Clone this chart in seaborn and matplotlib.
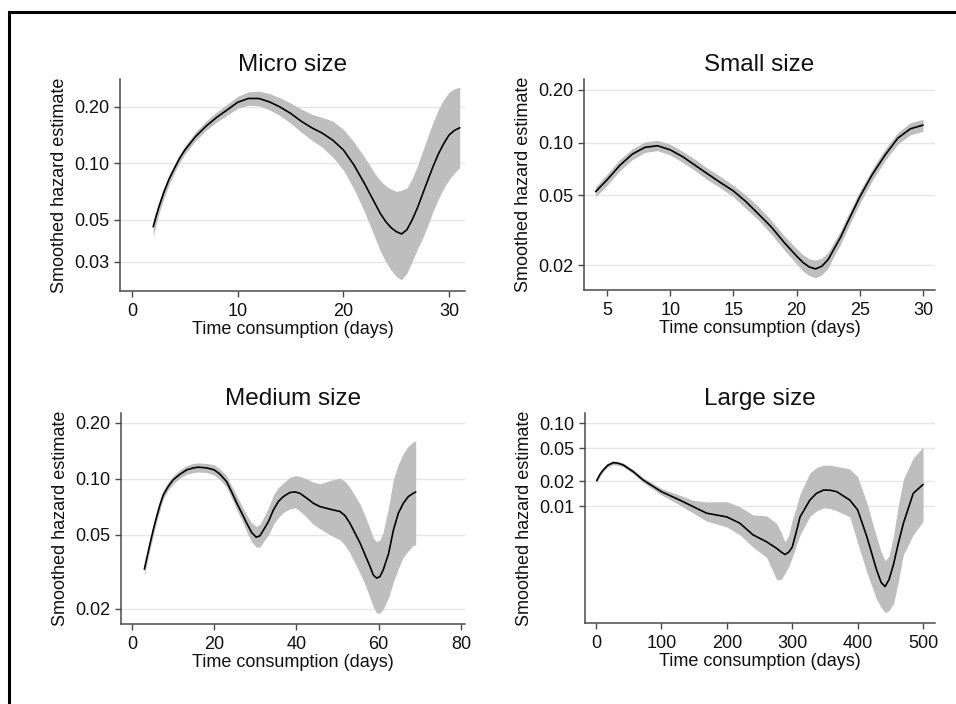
import matplotlib
matplotlib.use("Agg")
import matplotlib.pyplot as plt
from matplotlib.patches import Rectangle
from matplotlib.ticker import NullLocator
import seaborn as sns

# ---- data (days, hazard estimate, lower band, upper band) ----
micro_days = [2, 2.5, 3, 3.5, 4, 4.5, 5, 6, 7, 8, 9, 10, 11, 12, 13, 14, 15, 16, 17, 18,
              19, 20, 21, 22, 23, 23.5, 24, 24.5, 25, 25.5, 26, 26.5, 27, 27.5, 28, 28.5,
              29, 29.5, 30, 30.5, 31]
micro_est = [0.046, 0.0577, 0.070, 0.0824, 0.094, 0.1066, 0.118, 0.139, 0.158, 0.176,
             0.193, 0.212, 0.222, 0.222, 0.213, 0.200, 0.185, 0.168, 0.155, 0.145, 0.133,
             0.118, 0.098, 0.078, 0.061, 0.054, 0.049, 0.0455, 0.0433, 0.0421, 0.0443,
             0.050, 0.058, 0.069, 0.082, 0.097, 0.113, 0.128, 0.142, 0.150, 0.155]
micro_lo = [0.041, 0.053, 0.065, 0.077, 0.089, 0.101, 0.112, 0.132, 0.150, 0.166, 0.181,
            0.197, 0.204, 0.203, 0.193, 0.180, 0.164, 0.147, 0.133, 0.122, 0.108, 0.092,
            0.073, 0.055, 0.040, 0.034, 0.030, 0.027, 0.025, 0.024, 0.026, 0.030, 0.035,
            0.040, 0.047, 0.056, 0.065, 0.074, 0.082, 0.089, 0.095]
micro_hi = [0.050, 0.062, 0.074, 0.087, 0.099, 0.112, 0.124, 0.147, 0.168, 0.188, 0.207,
            0.228, 0.241, 0.243, 0.236, 0.224, 0.210, 0.195, 0.183, 0.176, 0.168, 0.152,
            0.130, 0.108, 0.088, 0.081, 0.076, 0.073, 0.071, 0.072, 0.074, 0.083, 0.097,
            0.117, 0.140, 0.167, 0.195, 0.220, 0.240, 0.250, 0.255]

small_days = [4.1, 5, 6, 7, 8, 9, 10, 11, 12, 13, 14, 15, 16, 17, 18, 19, 20, 20.5, 21,
              21.5, 22, 22.5, 23, 23.5, 24, 25, 26, 27, 28, 29, 30]
small_est = [0.0525, 0.0613, 0.074, 0.086, 0.094, 0.096, 0.091, 0.083, 0.074, 0.066,
             0.059, 0.053, 0.046, 0.039, 0.033, 0.027, 0.0225, 0.0207, 0.0195, 0.0190,
             0.0197, 0.0215, 0.025, 0.029, 0.0347, 0.049, 0.066, 0.085, 0.106, 0.120, 0.126]
small_lo = [0.049, 0.057, 0.069, 0.080, 0.088, 0.090, 0.085, 0.077, 0.069, 0.061, 0.055,
            0.049, 0.042, 0.036, 0.030, 0.0245, 0.0203, 0.0185, 0.0174, 0.0169, 0.0176,
            0.0193, 0.0228, 0.0265, 0.0318, 0.045, 0.061, 0.079, 0.098, 0.111, 0.116]
small_hi = [0.056, 0.066, 0.080, 0.092, 0.101, 0.103, 0.098, 0.089, 0.080, 0.071, 0.064,
            0.057, 0.050, 0.043, 0.036, 0.0295, 0.0248, 0.0229, 0.0217, 0.0213, 0.0219,
            0.0237, 0.0274, 0.0316, 0.0378, 0.053, 0.071, 0.092, 0.114, 0.130, 0.136]

medium_days = [3, 3.6, 4.4, 5.2, 6, 6.8, 7.6, 8.8, 10, 11.7, 13.3, 14.9, 16.1, 18.2, 20,
               21.4, 23, 24.2, 25.5, 26.7, 27.9, 29.1, 30.2, 31.1, 32, 33.2, 34.4, 35.6,
               36.8, 38.4, 39.7, 40.9, 42.5, 44.1, 45.7, 48.2, 50.6, 51.8, 53, 55.5, 56.7,
               57.9, 58.7, 59.5, 60.3, 61.1, 62.4, 63.6, 64.8, 66, 67.2, 68.4, 69]
medium_est = [0.0327, 0.0375, 0.0451, 0.0536, 0.0627, 0.0725, 0.082, 0.091, 0.0988,
              0.106, 0.1118, 0.1145, 0.1156, 0.1145, 0.1118, 0.106, 0.0967, 0.0854,
              0.074, 0.0655, 0.0578, 0.0515, 0.0486, 0.0494, 0.0532, 0.059, 0.0682,
              0.0756, 0.0803, 0.0845, 0.0851, 0.0835, 0.0788, 0.074, 0.071, 0.0687,
              0.0668, 0.0635, 0.0578, 0.0451, 0.039, 0.0338, 0.0304, 0.0293, 0.0298,
              0.0324, 0.0396, 0.0532, 0.0655, 0.074, 0.0803, 0.0837, 0.085]
medium_lo = [0.030, 0.035, 0.042, 0.050, 0.059, 0.068, 0.078, 0.087, 0.094, 0.101, 0.106,
             0.108, 0.109, 0.108, 0.105, 0.099, 0.090, 0.079, 0.068, 0.060, 0.052, 0.046,
             0.043, 0.043, 0.046, 0.050, 0.057, 0.062, 0.066, 0.069, 0.070, 0.067, 0.062,
             0.057, 0.054, 0.050, 0.047, 0.044, 0.040, 0.031, 0.027, 0.023, 0.0205, 0.019,
             0.019, 0.020, 0.023, 0.028, 0.033, 0.038, 0.041, 0.044, 0.044]
medium_hi = [0.035, 0.040, 0.048, 0.057, 0.067, 0.077, 0.087, 0.096, 0.104, 0.112, 0.118,
             0.121, 0.122, 0.121, 0.119, 0.113, 0.104, 0.092, 0.081, 0.072, 0.064, 0.058,
             0.0555, 0.057, 0.062, 0.070, 0.082, 0.090, 0.095, 0.102, 0.104, 0.103, 0.100,
             0.096, 0.094, 0.098, 0.101, 0.097, 0.090, 0.073, 0.063, 0.054, 0.048, 0.046,
             0.047, 0.052, 0.070, 0.100, 0.120, 0.137, 0.150, 0.158, 0.160]

large_days = [1, 6, 11, 18, 26.5, 34, 41.8, 57, 72, 100, 128, 149, 169, 200, 220, 240, 261,
              276, 283, 289, 295, 300, 306, 312, 327, 337, 348, 358, 368, 388, 400, 414,
              429, 436, 442, 448, 455, 462, 470, 485, 500]
large_est = [0.0202, 0.024, 0.0272, 0.031, 0.0333, 0.0327, 0.0312, 0.0259, 0.0206, 0.0149,
             0.0118, 0.0098, 0.0082, 0.0074, 0.0062, 0.0045, 0.0037, 0.0031, 0.0028,
             0.0026, 0.0028, 0.0032, 0.0048, 0.0074, 0.0118, 0.0142, 0.0156, 0.0155,
             0.0149, 0.0118, 0.0090, 0.0043, 0.0017, 0.0012, 0.00107, 0.0013, 0.0020,
             0.0035, 0.0062, 0.0142, 0.0182]
large_lo = [0.019, 0.0226, 0.0258, 0.0294, 0.0315, 0.031, 0.0295, 0.0245, 0.0193, 0.0136,
            0.0103, 0.0082, 0.0066, 0.0056, 0.0045, 0.0032, 0.0024, 0.0013, 0.0013,
            0.00155, 0.0019, 0.0024, 0.0033, 0.0045, 0.0075, 0.0087, 0.0095, 0.0093,
            0.0088, 0.0074, 0.0036, 0.0016, 0.00075, 0.0006, 0.00052, 0.00055, 0.00067,
            0.0012, 0.0026, 0.0045, 0.0065]
large_hi = [0.0215, 0.0255, 0.0287, 0.0327, 0.0352, 0.0345, 0.033, 0.0275, 0.022, 0.0163,
            0.0135, 0.0117, 0.0112, 0.0113, 0.0098, 0.0078, 0.0076, 0.0062, 0.0048,
            0.0037, 0.0045, 0.0068, 0.0095, 0.014, 0.025, 0.029, 0.031, 0.031, 0.030,
            0.028, 0.0226, 0.011, 0.0042, 0.0028, 0.0022, 0.0025, 0.0045, 0.010, 0.021,
            0.038, 0.051]

titles = ["Micro size", "Small size", "Medium size", "Large size"]
xticks = [[0, 10, 20, 30], [5, 10, 15, 20, 25, 30], [0, 20, 40, 60, 80],
          [0, 100, 200, 300, 400, 500]]
yticks = [[0.03, 0.05, 0.10, 0.20], [0.02, 0.05, 0.10, 0.20], [0.02, 0.05, 0.10, 0.20],
          [0.01, 0.02, 0.05, 0.10]]
ytick_labels = [["0.03", "0.05", "0.10", "0.20"], ["0.02", "0.05", "0.10", "0.20"],
                ["0.02", "0.05", "0.10", "0.20"], ["0.01", "0.02", "0.05", "0.10"]]

series = [(micro_days, micro_est, micro_lo, micro_hi),
          (small_days, small_est, small_lo, small_hi),
          (medium_days, medium_est, medium_lo, medium_hi),
          (large_days, large_est, large_lo, large_hi)]

# ---- layout (pixel-matched to the reference) ----
W, H = 956, 704
boxes = [(120, 465, 79, 291), (584, 935, 79, 290), (121, 465, 413, 624), (585, 935, 413, 623)]
xlims = [(-1.14, 31.5), (3.18, 30.95), (-2.68, 81.0), (-16.8, 518.3)]
ylims = [(0.0209, 0.282), (0.0144, 0.231), (0.0166, 0.226), (0.00039, 0.132)]

sns.set_theme(style="white")
plt.rcParams['font.family'] = ['Liberation Sans', 'DejaVu Sans']

fig = plt.figure(figsize=(W / 100, H / 100), dpi=100)

axis_col = '#4a4a4a'
band_col = '#bebebe'

for i, (days, est, lo, hi) in enumerate(series):
    l, r, t, b = boxes[i]
    ax = fig.add_axes([l / W, 1 - b / H, (r - l) / W, (b - t) / H])
    ax.set_yscale('log')

    ax.fill_between(days, lo, hi, color=band_col, linewidth=0, zorder=2)
    sns.lineplot(x=days, y=est, ax=ax, color='black', linewidth=1.2, zorder=3)

    ax.set_xlim(*xlims[i])
    ax.set_ylim(*ylims[i])
    ax.set_xticks(xticks[i])
    ax.set_xticklabels([str(v) for v in xticks[i]])
    ax.set_yticks(yticks[i])
    ax.set_yticklabels(ytick_labels[i])
    ax.yaxis.set_minor_locator(NullLocator())
    ax.xaxis.set_minor_locator(NullLocator())

    ax.grid(axis='y', color='#e6e6e6', linewidth=1.0, zorder=0)
    ax.grid(axis='x', visible=False)
    ax.set_axisbelow(True)

    for side in ['top', 'right']:
        ax.spines[side].set_visible(False)
    for side in ['left', 'bottom']:
        ax.spines[side].set_color(axis_col)
        ax.spines[side].set_linewidth(1.1)

    ax.tick_params(axis='both', which='major', direction='out', length=4.5, width=1.0,
                   color=axis_col, labelsize=13, labelcolor='#111111', pad=3,
                   left=True, bottom=True)
    ax.tick_params(axis='x', pad=4)

    ax.set_title(titles[i], fontsize=17.5, color='#111111', pad=6)
    ax.set_xlabel("Time consumption (days)", fontsize=13, color='#111111', labelpad=1)
    ax.set_ylabel("Smoothed hazard estimate", fontsize=13, color='#111111', labelpad=5)

# outer frame as in the exported figure
fig.patches.append(Rectangle((9 / W, -0.1), 1.2, 1 - 12 / H + 0.1, transform=fig.transFigure,
                             fill=False, edgecolor='black', linewidth=2.2, clip_on=False))

fig.savefig("out.png", dpi=100, facecolor='white')
